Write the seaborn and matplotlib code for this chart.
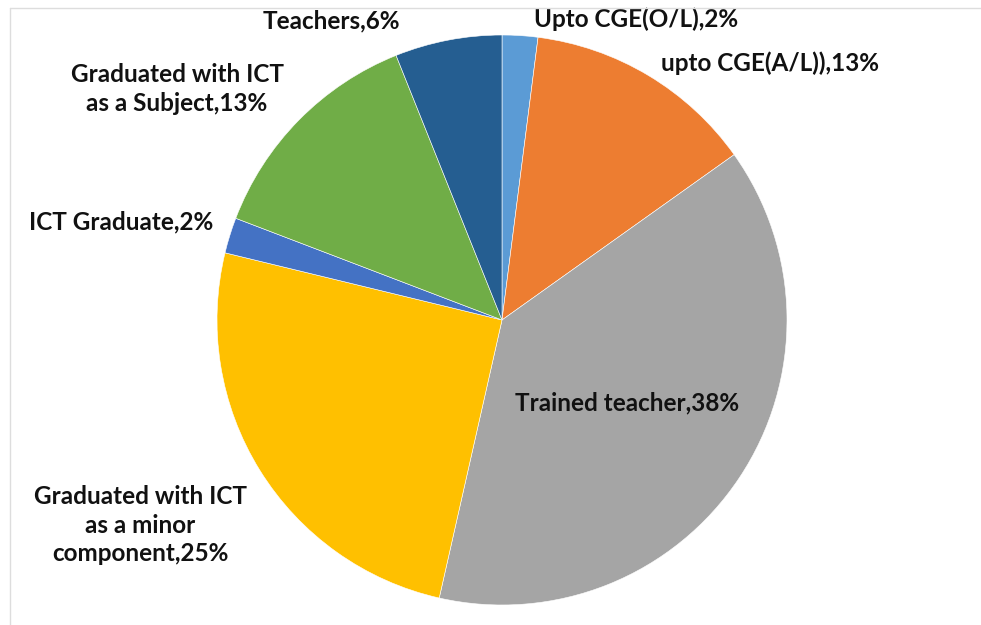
import matplotlib
matplotlib.use("Agg")
import matplotlib.pyplot as plt
import seaborn as sns
from matplotlib.lines import Line2D

categories = [
    "Upto CGE(O/L)",
    "upto CGE(A/L))",
    "Trained teacher",
    "Graduated with ICT\nas a minor\ncomponent",
    "ICT Graduate",
    "Graduated with ICT\nas a Subject",
    "Teachers",
]
shares = [2, 13, 38, 25, 2, 13, 6]
colors = ["#5B9BD5", "#ED7D31", "#A5A5A5", "#FFC000", "#4472C4", "#70AD47", "#255E91"]

# label centres in pie units (radius = 1)
label_pos = [
    (0.47, 1.055),
    (0.94, 0.90),
    (0.44, -0.29),
    (-1.27, -0.72),
    (-1.335, 0.345),
    (-1.14, 0.81),
    (-0.60, 1.05),
]

sns.set_theme(style="white")
plt.rcParams["font.family"] = ["Lato", "DejaVu Sans"]

fig = plt.figure(figsize=(9.81, 6.25), dpi=100)
W, H = 981, 625
cx, cy, r = 502, 320, 285
ax = fig.add_axes([(cx - r) / W, (H - cy - r) / H, 2 * r / W, 2 * r / H])
ax.pie(shares, colors=colors, startangle=90, counterclock=False, radius=1,
       wedgeprops=dict(linewidth=0.4, edgecolor="white"))
ax.set_xlim(-1, 1)
ax.set_ylim(-1, 1)
ax.set_aspect("equal")
ax.axis("off")

for name, val, (x, y) in zip(categories, shares, label_pos):
    ax.text(x, y, f"{name},{val}%", ha="center", va="center", fontsize=17.5,
            fontweight="bold", color="#111111", linespacing=1.3, clip_on=False)

# faint frame lines at top and left
fig.add_artist(Line2D([10 / W, 1], [1 - 8 / H, 1 - 8 / H], transform=fig.transFigure,
                      color="#dddddd", lw=1))
fig.add_artist(Line2D([10 / W, 10 / W], [0, 1 - 8 / H], transform=fig.transFigure,
                      color="#dddddd", lw=1))

fig.savefig("out.png", dpi=100, facecolor="white")
